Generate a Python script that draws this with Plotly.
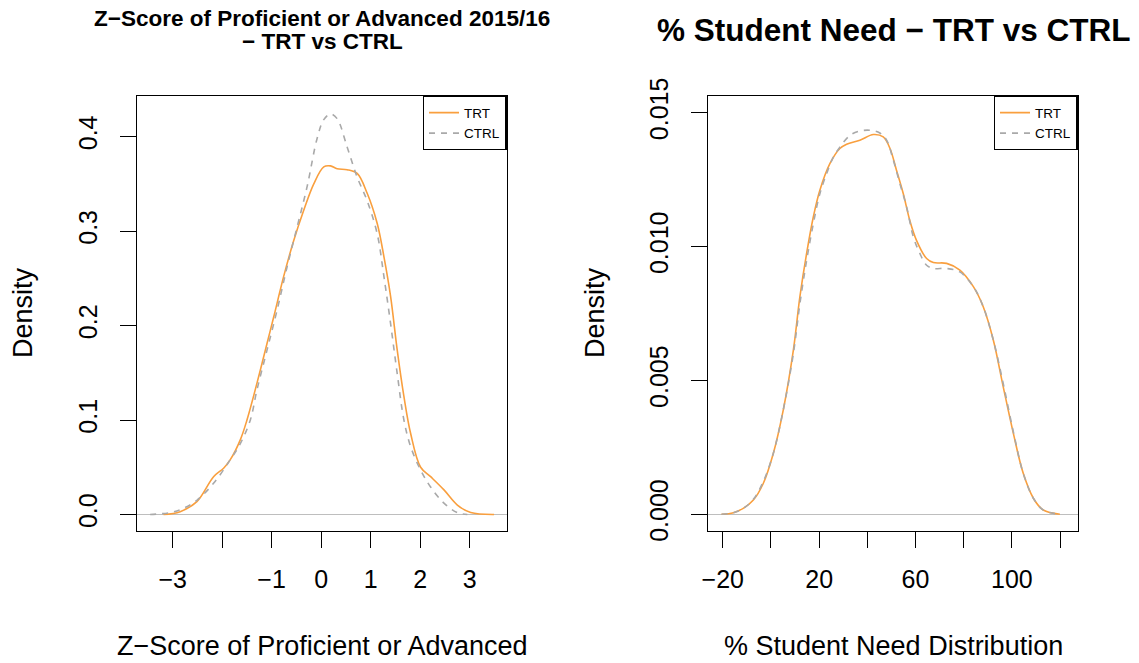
import plotly.graph_objects as go

# ---- Left panel: Z-Score of Proficient or Advanced (density estimates)
z_trt_x = [-3.185, -2.848, -2.510, -2.173, -1.970, -1.835, -1.633, -1.498, -1.296, -1.093,
           -0.958, -0.756, -0.553, -0.351, -0.148, 0.054, 0.189, 0.324, 0.526, 0.729,
           0.931, 1.134, 1.269, 1.404, 1.538, 1.673, 1.808, 2.011, 2.213, 2.483,
           2.753, 3.023, 3.495]
z_trt_y = [0.000, 0.003, 0.0136, 0.040, 0.049, 0.058, 0.079, 0.100, 0.139, 0.181,
           0.209, 0.252, 0.290, 0.322, 0.350, 0.368, 0.369, 0.366, 0.365, 0.361,
           0.340, 0.308, 0.273, 0.231, 0.174, 0.125, 0.086, 0.050, 0.040, 0.026,
           0.010, 0.002, 0.000]
z_ctrl_x = [-3.455, -3.050, -2.780, -2.510, -2.173, -1.835, -1.633, -1.430, -1.296, -1.093,
            -0.891, -0.688, -0.486, -0.283, -0.081, 0.054, 0.189, 0.324, 0.526, 0.729,
            0.931, 1.134, 1.269, 1.404, 1.538, 1.673, 1.808, 2.011, 2.213, 2.483,
            2.753, 2.955]
z_ctrl_y = [0.000, 0.002, 0.0065, 0.015, 0.033, 0.058, 0.075, 0.100, 0.132, 0.174,
            0.216, 0.262, 0.304, 0.347, 0.398, 0.418, 0.424, 0.419, 0.389, 0.357,
            0.332, 0.297, 0.252, 0.202, 0.149, 0.100, 0.072, 0.047, 0.029, 0.012,
            0.002, 0.000]

# ---- Right panel: % Student Need
n_trt_x = [-20.5, -15.6, -11.5, -7.3, -3.2, 0.97, 5.1, 9.3, 12.0, 14.8, 17.6, 20.3, 24.5,
           28.6, 31.4, 36.9, 42.5, 46.6, 49.4, 52.1, 54.9, 57.6, 60.4, 64.6, 67.4, 72.9,
           78.4, 84.0, 88.1, 92.3, 96.4, 100.6, 104.7, 108.9, 113.0, 119.9]
n_trt_y = [0.0, 0.00006, 0.00022, 0.00053, 0.00115, 0.00227, 0.00389, 0.00613, 0.00812,
           0.00974, 0.01111, 0.01210, 0.01310, 0.01366, 0.01382, 0.01397, 0.01418, 0.01409,
           0.01366, 0.01285, 0.01198, 0.01098, 0.01023, 0.00955, 0.00940, 0.00937, 0.00912,
           0.00850, 0.00775, 0.00650, 0.00476, 0.00302, 0.00153, 0.00060, 0.00016, 0.0]
n_ctrl_x = [-20.5, -15.6, -11.5, -7.3, -3.2, 0.97, 5.1, 9.3, 12.0, 14.8, 17.6, 20.3, 23.1,
            25.9, 28.6, 32.8, 36.9, 41.1, 45.2, 48.0, 50.8, 53.5, 56.3, 59.1, 61.8, 64.6,
            67.4, 72.9, 78.4, 84.0, 88.1, 92.3, 96.4, 100.6, 104.7, 108.9, 113.0, 119.9]
n_ctrl_y = [0.0, 0.00006, 0.00022, 0.00056, 0.00122, 0.00227, 0.00389, 0.00600, 0.00786,
            0.00948, 0.01086, 0.01197, 0.01272, 0.01334, 0.01371, 0.01415, 0.01431, 0.01434,
            0.01424, 0.01397, 0.01322, 0.01235, 0.01148, 0.01036, 0.00974, 0.00930, 0.00918,
            0.00918, 0.00905, 0.00850, 0.00775, 0.00650, 0.00488, 0.00308, 0.00153, 0.00060,
            0.00016, 0.0]

# ---- Tick labels
z_xticks = [-3, -2, -1, 0, 1, 2, 3]
z_xticktext = ["\u22123", "", "\u22121", "0", "1", "2", "3"]
z_yticks = [0.0, 0.1, 0.2, 0.3, 0.4]
z_yticktext = ["0.0", "0.1", "0.2", "0.3", "0.4"]
n_xticks = [-20, 0, 20, 40, 60, 80, 100, 120]
n_xticktext = ["\u221220", "", "20", "", "60", "", "100", ""]
n_yticks = [0.0, 0.005, 0.010, 0.015]
n_yticktext = ["0.000", "0.005", "0.010", "0.015"]

ORANGE = "#F99F3E"
GREY = "#A9A9A9"
FONT = "Liberation Sans, Arial, sans-serif"

fig = go.Figure()
fig.add_trace(go.Scatter(x=z_trt_x, y=z_trt_y, mode="lines", name="TRT",
                         line=dict(color=ORANGE, width=1.6, shape="spline"),
                         xaxis="x", yaxis="y", legend="legend"))
fig.add_trace(go.Scatter(x=z_ctrl_x, y=z_ctrl_y, mode="lines", name="CTRL",
                         line=dict(color=GREY, width=1.6, dash="6px,6px", shape="spline"),
                         xaxis="x", yaxis="y", legend="legend"))
fig.add_trace(go.Scatter(x=n_trt_x, y=n_trt_y, mode="lines", name="TRT",
                         line=dict(color=ORANGE, width=1.6, shape="spline"),
                         xaxis="x2", yaxis="y2", legend="legend2"))
fig.add_trace(go.Scatter(x=n_ctrl_x, y=n_ctrl_y, mode="lines", name="CTRL",
                         line=dict(color=GREY, width=1.6, dash="6px,6px", shape="spline"),
                         xaxis="x2", yaxis="y2", legend="legend2"))

W, H = 1139, 663
box_top, box_bot = 96, 531
ydom = [(H - box_bot) / H, (H - box_top) / H]
x1dom = [137 / W, 506.7 / W]
x2dom = [708.3 / W, 1077.7 / W]

axis_common = dict(showline=True, mirror=True, linecolor="black", linewidth=1.3,
                   ticks="outside", ticklen=16, tickwidth=1.3, tickcolor="black",
                   showgrid=False, automargin=False,
                   tickfont=dict(family=FONT, size=25, color="black"))

legend_common = dict(bordercolor="black", borderwidth=1.3, bgcolor="white",
                     font=dict(family=FONT, size=13.5, color="black"),
                     xanchor="right", yanchor="top", itemwidth=30,
                     tracegroupgap=0)

fig.update_layout(
    template="none",
    width=W, height=H, autosize=False,
    margin=dict(l=0, r=0, t=0, b=0, pad=0, autoexpand=False),
    paper_bgcolor="white", plot_bgcolor="white",
    font=dict(family=FONT, color="black"),
    xaxis=dict(domain=x1dom, range=[-3.72, 3.75], tickvals=z_xticks, ticktext=z_xticktext,
               zeroline=False, anchor="y", ticklabelstandoff=10, **axis_common),
    yaxis=dict(domain=ydom, range=[-0.0175, 0.443], tickvals=z_yticks, ticktext=z_yticktext,
               tickangle=-90, zeroline=True, zerolinecolor="#BEBEBE", zerolinewidth=1,
               anchor="x", ticklabelstandoff=13, **axis_common),
    xaxis2=dict(domain=x2dom, range=[-26.0, 127.3], tickvals=n_xticks, ticktext=n_xticktext,
                zeroline=False, anchor="y2", ticklabelstandoff=10, **axis_common),
    yaxis2=dict(domain=ydom, range=[-0.000624, 0.01562], tickvals=n_yticks,
                ticktext=n_yticktext, tickangle=-90, zeroline=True, zerolinecolor="#BEBEBE",
                zerolinewidth=1, anchor="x2", ticklabelstandoff=13, **axis_common),
    legend=dict(x=x1dom[1], y=ydom[1], **legend_common),
    legend2=dict(x=x2dom[1], y=ydom[1], **legend_common),
    showlegend=True,
)

annos = [
    dict(text="<b>Z\u2212Score of Proficient or Advanced 2015/16</b>", x=322 / W, y=1 - 18 / H,
         font=dict(size=22.5)),
    dict(text="<b>\u2212 TRT vs CTRL</b>", x=322 / W, y=1 - 41.5 / H, font=dict(size=22.5)),
    dict(text="<b>% Student Need \u2212 TRT vs CTRL</b>", x=893 / W, y=1 - 30 / H,
         font=dict(size=31.5)),
    dict(text="Z\u2212Score of Proficient or Advanced", x=322 / W, y=1 - 646 / H,
         font=dict(size=27)),
    dict(text="% Student Need Distribution", x=893 / W, y=1 - 646 / H, font=dict(size=27)),
    dict(text="Density", x=23 / W, y=1 - 313 / H, textangle=-90, font=dict(size=27)),
    dict(text="Density", x=595 / W, y=1 - 313 / H, textangle=-90, font=dict(size=27)),
]
for a in annos:
    a.update(xref="paper", yref="paper", showarrow=False, xanchor="center", yanchor="middle")
    a["font"].update(family=FONT, color="black")
    fig.add_annotation(**a)

fig.write_html(
    "out.html",
    config={"displayModeBar": False},
    post_script="document.body.style.margin='0';document.body.style.padding='0';"
                "document.body.style.overflow='hidden';",
)
